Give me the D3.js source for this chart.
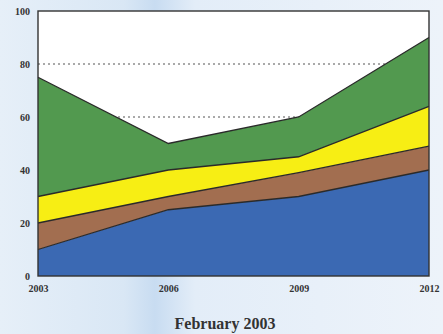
<!DOCTYPE html>
<html>
<head>
<meta charset="utf-8">
<script src="https://cdn.jsdelivr.net/npm/d3@7"></script>
<style>
  html, body { margin: 0; padding: 0; }
  body { width: 443px; height: 334px; overflow: hidden; }
  svg { display: block; }
</style>
</head>
<body>
<svg id="chart" width="443" height="334"></svg>
<script>
// Years on the x axis
const years = [2003, 2006, 2009, 2012];
// Stacked series (bottom to top), values per year
const blueValues   = [10, 25, 30, 40];
const brownValues  = [10, 5, 9, 9];
const yellowValues = [10, 10, 6, 15];
const greenValues  = [45, 10, 15, 26];
const seriesKeys = ["blue", "brown", "yellow", "green"];
const seriesColors = ["#3b69b3", "#a26e50", "#f7ee14", "#52994f"];
// Tick labels
const yTicks = [0, 20, 40, 60, 80, 100];
const gridTicks = [60, 80];
const title = "February 2003";

const rows = years.map((y, i) => ({
  year: y,
  blue: blueValues[i],
  brown: brownValues[i],
  yellow: yellowValues[i],
  green: greenValues[i]
}));

const svg = d3.select("#chart");
const W = 443, H = 334;
const m = { left: 38, right: 14, top: 11, bottom: 58 };

// Paper-like pale blue background
const defs = svg.append("defs");
const bg = defs.append("linearGradient").attr("id", "bg").attr("x1", 0).attr("x2", 1).attr("y1", 0).attr("y2", 0);
bg.append("stop").attr("offset", "0%").attr("stop-color", "#e6eff8");
bg.append("stop").attr("offset", "28%").attr("stop-color", "#d9e7f5");
bg.append("stop").attr("offset", "35%").attr("stop-color", "#c8dcf1");
bg.append("stop").attr("offset", "44%").attr("stop-color", "#e3edf8");
bg.append("stop").attr("offset", "100%").attr("stop-color", "#edf3fa");
svg.append("rect").attr("width", W).attr("height", H).attr("fill", "url(#bg)");

const x = d3.scaleLinear().domain([years[0], years[years.length - 1]]).range([m.left, W - m.right]);
const y = d3.scaleLinear().domain([0, 100]).range([H - m.bottom, m.top]);

// Plot background
svg.append("rect")
  .attr("x", x.range()[0]).attr("y", y(100))
  .attr("width", x.range()[1] - x.range()[0]).attr("height", y(0) - y(100))
  .attr("fill", "#ffffff");

// Dashed gridlines (behind the areas)
svg.append("g").selectAll("line").data(gridTicks).join("line")
  .attr("x1", x.range()[0]).attr("x2", x.range()[1])
  .attr("y1", d => y(d)).attr("y2", d => y(d))
  .attr("stroke", "#555").attr("stroke-width", 1)
  .attr("stroke-dasharray", "2,3");

const stack = d3.stack().keys(seriesKeys);
const layers = stack(rows);

const area = d3.area()
  .x(d => x(d.data.year))
  .y0(d => y(d[0]))
  .y1(d => y(d[1]));
const topLine = d3.line()
  .x(d => x(d.data.year))
  .y(d => y(d[1]));

const g = svg.append("g");
g.selectAll("path.area").data(layers).join("path")
  .attr("class", "area")
  .attr("d", area)
  .attr("fill", (d, i) => seriesColors[i]);
g.selectAll("path.edge").data(layers).join("path")
  .attr("class", "edge")
  .attr("d", topLine)
  .attr("fill", "none")
  .attr("stroke", "#2a2a2a")
  .attr("stroke-width", 1.3);

// Plot frame
svg.append("rect")
  .attr("x", x.range()[0]).attr("y", y(100))
  .attr("width", x.range()[1] - x.range()[0]).attr("height", y(0) - y(100))
  .attr("fill", "none").attr("stroke", "#333").attr("stroke-width", 1.4);

// Y axis labels
const yAxis = d3.axisLeft(y).tickValues(yTicks).tickSize(0).tickPadding(8);
const ya = svg.append("g").attr("transform", `translate(${m.left},0)`).call(yAxis);
ya.select(".domain").remove();
ya.selectAll("text")
  .attr("font-family", "'Liberation Serif', 'Times New Roman', serif")
  .attr("font-weight", "bold").attr("font-size", 10).attr("fill", "#333");

// X axis labels
const xAxis = d3.axisBottom(x).tickValues(years).tickFormat(d3.format("d")).tickSize(0).tickPadding(9);
const xa = svg.append("g").attr("transform", `translate(0,${y(0)})`).call(xAxis);
xa.select(".domain").remove();
xa.selectAll("text")
  .attr("font-family", "'Liberation Serif', 'Times New Roman', serif")
  .attr("font-weight", "bold").attr("font-size", 10).attr("fill", "#333");

// Title
svg.append("text")
  .attr("x", 225).attr("y", 329)
  .attr("text-anchor", "middle")
  .attr("font-family", "'Liberation Serif', 'Times New Roman', serif")
  .attr("font-weight", "bold").attr("font-size", 16).attr("fill", "#333")
  .text(title);
</script>
</body>
</html>
